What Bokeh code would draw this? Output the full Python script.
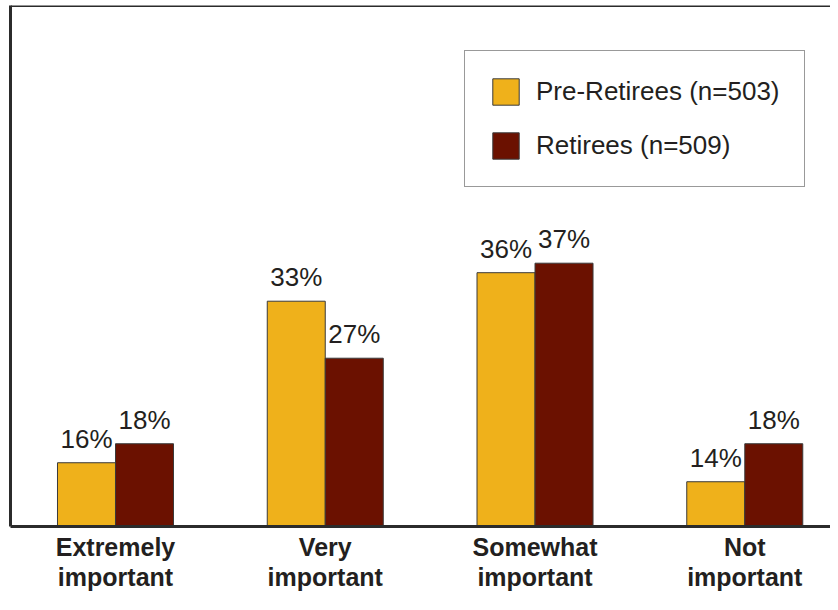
from bokeh.plotting import figure
from bokeh.models import ColumnDataSource, Range1d, Span, Legend, LegendItem, LabelSet, FixedTicker
from bokeh.transform import dodge
from bokeh.core.properties import value
from bokeh.embed import file_html
from bokeh.resources import INLINE

# ---- data ----
categories = ["Extremely\nimportant", "Very\nimportant", "Somewhat\nimportant", "Not\nimportant"]
pre_retirees = [16, 33, 36, 14]
retirees = [18, 27, 37, 18]
series_names = ["Pre-Retirees (n=503)", "Retirees (n=509)"]

pre_labels = [f"{v}%" for v in pre_retirees]
ret_labels = [f"{v}%" for v in retirees]
positions = list(range(len(categories)))

# ---- styles ----
FONT = "Liberation Sans"
TEXT_COLOR = "#231F20"
LINE_COLOR = "#2b2b2b"
PRE_COLOR = "#EFB11B"
RET_COLOR = "#6B1100"
X_START, X_END = -0.5006, 3.4087
Y_START, Y_END = 9.29, 64.12
BAR_W = 0.2765
OFF = 0.1383

source = ColumnDataSource(dict(pos=positions, pre=pre_retirees, ret=retirees,
                               pre_lbl=pre_labels, ret_lbl=ret_labels))

p = figure(
    x_range=Range1d(X_START, X_END),
    y_range=Range1d(Y_START, Y_END),
    width=830, height=594,
    output_backend="svg", toolbar_location=None,
    min_border_left=10, min_border_right=0, min_border_top=5, min_border_bottom=60,
)
p.outline_line_color = None
p.xgrid.visible = False
p.ygrid.visible = False

r_pre = p.vbar(x=dodge("pos", -OFF), top="pre", bottom=Y_START, width=BAR_W,
               source=source, fill_color=PRE_COLOR, line_color="#3a3a3a", line_width=1)
r_ret = p.vbar(x=dodge("pos", OFF), top="ret", bottom=Y_START, width=BAR_W,
               source=source, fill_color=RET_COLOR, line_color="#3a3a3a", line_width=1)

for off, col, lbl in ((-OFF, "pre", "pre_lbl"), (OFF, "ret", "ret_lbl")):
    p.add_layout(LabelSet(x=dodge("pos", off), y=col, text=lbl, source=source,
                          text_align="center", text_baseline="alphabetic", y_offset=15,
                          text_font=value(FONT), text_font_size="26px", text_color=TEXT_COLOR))

# axes
xa = p.xaxis[0]
xa.ticker = FixedTicker(ticks=positions)
xa.major_label_overrides = {pos: lbl for pos, lbl in zip(positions, categories)}
xa.axis_line_width = 3
xa.axis_line_color = LINE_COLOR
xa.major_tick_line_color = None
xa.minor_tick_line_color = None
xa.major_tick_in = 0
xa.major_tick_out = 0
xa.minor_tick_in = 0
xa.minor_tick_out = 0
xa.major_label_text_font = FONT
xa.major_label_text_font_size = "25px"
xa.major_label_text_font_style = "bold"
xa.major_label_text_color = TEXT_COLOR
xa.major_label_text_line_height = 1.1
xa.major_label_standoff = 6

ya = p.yaxis[0]
ya.ticker = FixedTicker(ticks=[])
ya.axis_line_width = 3
ya.axis_line_color = LINE_COLOR
ya.major_tick_line_color = None
ya.minor_tick_line_color = None
ya.major_label_standoff = 0

p.add_layout(Span(location=Y_END, dimension="width", line_width=3, line_color=LINE_COLOR))

legend = Legend(
    items=[LegendItem(label=series_names[0], renderers=[r_pre]),
           LegendItem(label=series_names[1], renderers=[r_ret])],
    location=(454, 339), margin=0, padding=24, spacing=21,
    glyph_width=33, glyph_height=33, label_standoff=14,
    label_text_font=FONT, label_text_font_size="26px", label_text_color=TEXT_COLOR,
    border_line_color="#333333", border_line_width=1.5,
    background_fill_color="white", background_fill_alpha=1.0,
)
p.add_layout(legend)

open("out.html", "w").write(file_html(p, INLINE))
